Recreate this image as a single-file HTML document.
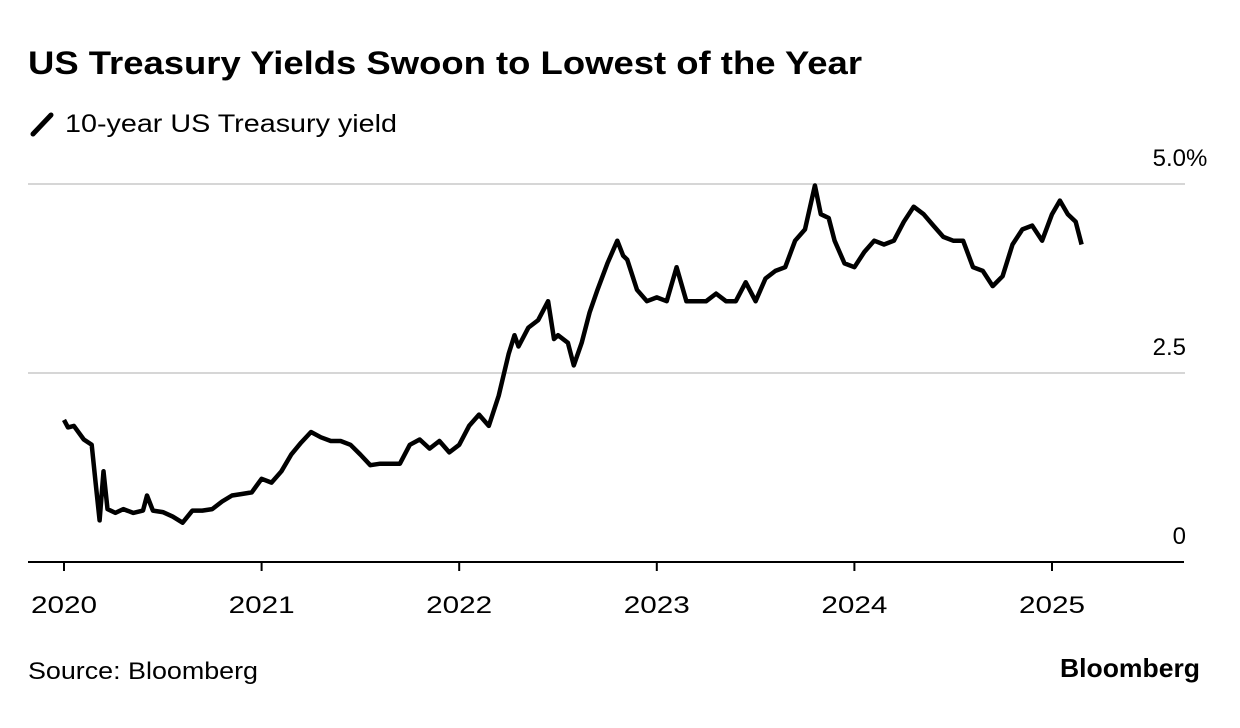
<!DOCTYPE html>
<html><head><meta charset="utf-8">
<style>
body{margin:0;background:#fff;width:1240px;height:728px;overflow:hidden;font-family:"Liberation Sans",sans-serif;color:#000}
svg{position:absolute;left:0;top:0}
</style></head>
<body>
<svg id="chart" width="1240" height="728">
<text x="28" y="74" font-size="32" font-weight="bold" textLength="834" lengthAdjust="spacingAndGlyphs">US Treasury Yields Swoon to Lowest of the Year</text>
<line x1="33" y1="134" x2="51" y2="115" stroke="#000" stroke-width="5" stroke-linecap="round"/>
<text x="65" y="132" font-size="25" textLength="332" lengthAdjust="spacingAndGlyphs">10-year US Treasury yield</text>
<g id="grid"></g>
<g id="xaxis"></g>
<path id="line" fill="none" stroke="#000" stroke-width="4.5" stroke-linejoin="round"/>
<text x="28" y="679" font-size="24" textLength="230" lengthAdjust="spacingAndGlyphs">Source: Bloomberg</text>
<text x="1060" y="677" font-size="26" font-weight="bold" textLength="140" lengthAdjust="spacingAndGlyphs">Bloomberg</text>
</svg>
<script>
const yTicks=[0,2.5,5.0];
const yTickLabels=["0","2.5","5.0"];
const xYears=[2020,2021,2022,2023,2024,2025];
const dates=[2020.0,2020.02,2020.05,2020.1,2020.14,2020.16,2020.18,2020.2,2020.22,2020.26,2020.3,2020.35,2020.4,2020.42,2020.45,2020.5,2020.55,2020.6,2020.65,2020.7,2020.75,2020.8,2020.85,2020.9,2020.95,2021.0,2021.05,2021.1,2021.15,2021.2,2021.25,2021.3,2021.35,2021.4,2021.45,2021.5,2021.55,2021.6,2021.65,2021.7,2021.75,2021.8,2021.85,2021.9,2021.95,2022.0,2022.05,2022.1,2022.15,2022.2,2022.25,2022.28,2022.3,2022.35,2022.4,2022.45,2022.48,2022.5,2022.55,2022.58,2022.62,2022.66,2022.7,2022.75,2022.8,2022.83,2022.85,2022.9,2022.95,2023.0,2023.05,2023.1,2023.15,2023.2,2023.25,2023.3,2023.35,2023.4,2023.45,2023.5,2023.55,2023.6,2023.65,2023.7,2023.75,2023.8,2023.83,2023.87,2023.9,2023.95,2024.0,2024.05,2024.1,2024.15,2024.2,2024.25,2024.3,2024.35,2024.4,2024.45,2024.5,2024.55,2024.6,2024.65,2024.7,2024.75,2024.8,2024.85,2024.9,2024.95,2025.0,2025.04,2025.08,2025.12,2025.15];
const yields=[1.88,1.78,1.8,1.62,1.55,1.05,0.55,1.2,0.7,0.65,0.7,0.65,0.68,0.88,0.68,0.66,0.6,0.52,0.68,0.68,0.7,0.8,0.88,0.9,0.92,1.1,1.05,1.2,1.42,1.58,1.72,1.65,1.6,1.6,1.55,1.42,1.28,1.3,1.3,1.3,1.55,1.62,1.5,1.6,1.45,1.55,1.8,1.95,1.8,2.2,2.75,3.0,2.85,3.1,3.2,3.45,2.95,3.0,2.9,2.6,2.9,3.3,3.6,3.95,4.25,4.05,4.0,3.6,3.45,3.5,3.45,3.9,3.45,3.45,3.45,3.55,3.45,3.45,3.7,3.45,3.75,3.85,3.9,4.25,4.4,4.98,4.6,4.55,4.25,3.95,3.9,4.1,4.25,4.2,4.25,4.5,4.7,4.6,4.45,4.3,4.25,4.25,3.9,3.85,3.65,3.78,4.2,4.4,4.45,4.25,4.6,4.78,4.6,4.5,4.2];
const xOf=d=>64+(d-2020)*197.6;
const yOf=v=>562-v*75.6;
const ns="http://www.w3.org/2000/svg";
const grid=document.getElementById('grid');
yTicks.forEach((t,i)=>{
  if(t>0){const l=document.createElementNS(ns,'line');
  l.setAttribute('x1',28);l.setAttribute('x2',1185);l.setAttribute('y1',yOf(t));l.setAttribute('y2',yOf(t));
  l.setAttribute('stroke','#d6d6d6');l.setAttribute('stroke-width',2);
  
  
  grid.appendChild(l);}
  const tx=document.createElementNS(ns,'text');
  tx.setAttribute('x',1186);tx.setAttribute('y',yOf(t)-18);tx.setAttribute('text-anchor','end');tx.setAttribute('font-size',24);
  tx.textContent=yTickLabels[i];
  
  
  grid.appendChild(tx);
  if(i===yTicks.length-1){
    const p=document.createElementNS(ns,'text');
    p.setAttribute('x',1186);p.setAttribute('y',yOf(t)-18);p.setAttribute('font-size',24);
    p.textContent='%';
    
    
    grid.appendChild(p);
  }
});
const xa=document.getElementById('xaxis');
const base=document.createElementNS(ns,'line');
base.setAttribute('x1',28);base.setAttribute('x2',1184);base.setAttribute('y1',562);base.setAttribute('y2',562);base.setAttribute('stroke','#000');base.setAttribute('stroke-width',2);


xa.appendChild(base);
xYears.forEach(y=>{
  const t=document.createElementNS(ns,'line');
  t.setAttribute('x1',xOf(y));t.setAttribute('x2',xOf(y));t.setAttribute('y1',562);t.setAttribute('y2',571);t.setAttribute('stroke','#000');t.setAttribute('stroke-width',2);
  
  
  xa.appendChild(t);
  const tx=document.createElementNS(ns,'text');
  tx.setAttribute('x',xOf(y)-33);tx.setAttribute('y',613);tx.setAttribute('font-size',24);
  tx.setAttribute('textLength',66);tx.setAttribute('lengthAdjust','spacingAndGlyphs');
  tx.textContent=y;
  
  
  xa.appendChild(tx);
});
document.getElementById('line').setAttribute('d',dates.map((d,i)=>(i?'L':'M')+xOf(d).toFixed(1)+','+yOf(yields[i]).toFixed(1)).join(''));
</script>
</body></html>
